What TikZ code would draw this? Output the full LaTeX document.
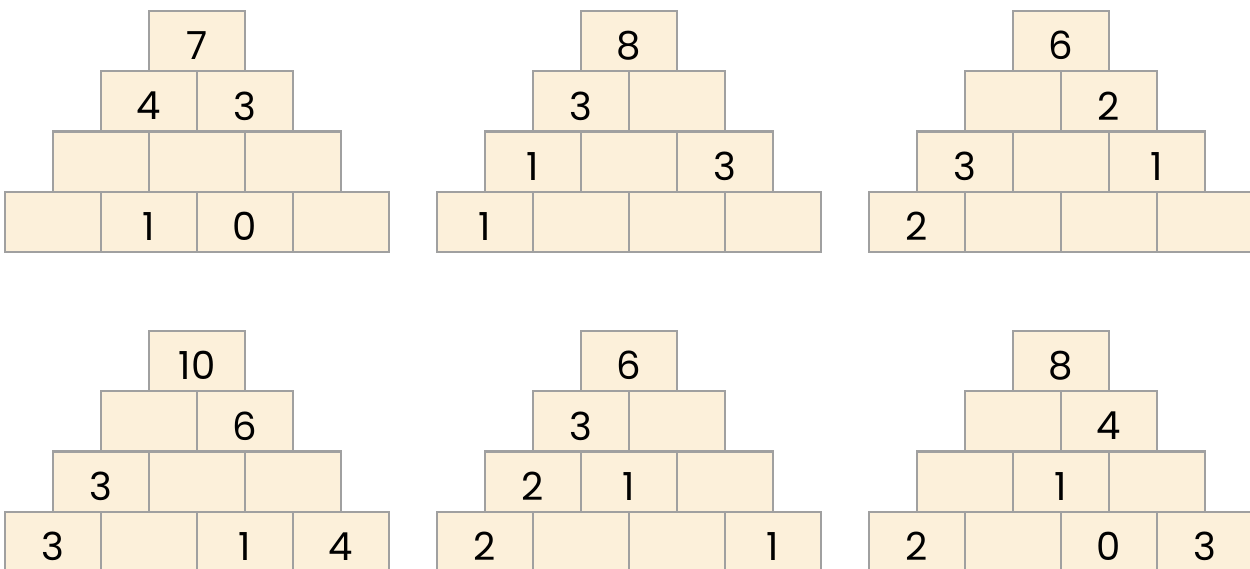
\documentclass[tikz,border=0pt]{standalone}
\usepackage{fontspec}
\setmainfont{Poppins}

\definecolor{brickfill}{RGB}{252,240,218}
\definecolor{brickline}{RGB}{160,160,160}

\tikzset{
  brick/.style={draw=brickline, line width=0.045cm, fill=brickfill,
    minimum width=1.92cm, minimum height=1.206cm, inner sep=0pt},
  num/.style={font=\fontsize{22}{22}\selectfont, inner sep=0pt, yshift=-0.09cm}
}

\begin{document}
\begin{tikzpicture}[x=0.02cm, y=-0.02cm]

  \useasboundingbox (0,0) rectangle (1250,568);
  \clip (0,0) rectangle (1250,568);

  % six pyramids of bricks, four rows each
  \foreach \col in {0,1,2}{
    \foreach \lvl in {0,1}{
      \pgfmathtruncatemacro{\p}{3*\lvl+\col+1}
      \foreach \r in {0,...,3}
        \foreach \i in {0,...,\r}
          \node[brick] (p\p-\r\i)
            at ({53+432*\col+48*(3-\r)+96*\i}, {41.15+320*\lvl+60.3*\r}) {};
    }
  }

  % given numbers
  \foreach \b/\v in {p1-00/7, p1-10/4, p1-11/3, p1-31/1, p1-32/0,
                     p2-00/8, p2-10/3, p2-20/1, p2-22/3, p2-30/1,
                     p3-00/6, p3-11/2, p3-20/3, p3-22/1, p3-30/2,
                     p4-00/10, p4-11/6, p4-20/3, p4-30/3, p4-32/1, p4-33/4,
                     p5-00/6, p5-10/3, p5-20/2, p5-21/1, p5-30/2, p5-33/1,
                     p6-00/8, p6-11/4, p6-21/1, p6-30/2, p6-32/0, p6-33/3}
    \node[num] (t\b) at (\b) {\v};

\end{tikzpicture}
\end{document}
